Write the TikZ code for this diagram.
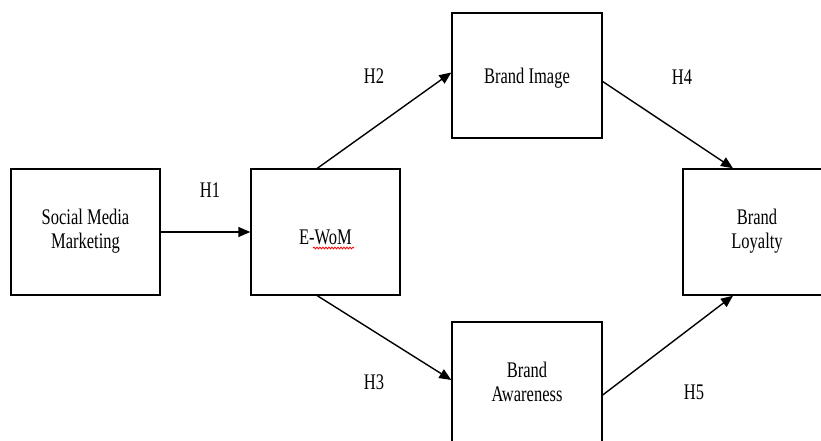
\documentclass[tikz,border=0pt]{standalone}
\usepackage{fontspec}
\setmainfont{Liberation Serif}
\usepackage{graphicx}
\usetikzlibrary{arrows.meta,calc,decorations.pathmorphing}
\newcommand{\vst}[1]{\scalebox{1}[1.35]{\begin{tabular}{@{}c@{}}#1\end{tabular}}}
\newcommand{\vsh}[1]{\scalebox{1}[1.35]{#1}}
\begin{document}
\begin{tikzpicture}[x=1pt,y=-1pt,
  box/.style={draw, line width=1.4pt, minimum width=149pt, minimum height=126pt, inner sep=0pt, font=\fontsize{16.5}{17.8}\selectfont},
  hyp/.style={inner sep=0pt, font=\fontsize{16.5}{17.8}\selectfont},
  link/.style={line width=1.4pt, -{Triangle[length=12pt,width=10pt]}}]
\useasboundingbox (0,0) rectangle (821,441);
\clip (0,0) rectangle (821,441);
\fill[white] (0,0) rectangle (821,441);
\node[box] (smm) at (85.5,232) {\vst{Social Media\\Marketing}};
\node[box, label={[hyp,yshift=-5pt]center:\vsh{E-WoM}}] (ewom) at (325.5,232) {};
\node[box, minimum width=150pt, minimum height=125pt, label={[hyp,yshift=-3pt]center:\vsh{Brand Image}}] (bi) at (527,75.5) {};
\node[box, minimum width=150pt] (ba) at (527,385) {\vst{Brand\\Awareness}};
\node[box, minimum width=148pt] (bl) at (757,232) {\vst{Brand\\Loyalty}};
\draw[link] (smm.east) -- (ewom.west);
\draw[link] ($(ewom.north west)+(67,0)$) -- ($(bi.west)+(0,-3)$);
\draw[link] ($(ewom.south west)+(67,0)$) -- ($(ba.west)+(0,-5)$);
\draw[link] ($(bi.east)+(0,6)$) -- ($(bl.north)+(-24,0)$);
\draw[link] ($(ba.east)+(0,10)$) -- ($(bl.south)+(-24,0)$);
\node[hyp] (h1) at (210,190) {\vsh{H1}};
\node[hyp] (h2) at (374,76) {\vsh{H2}};
\node[hyp] (h3) at (374,382) {\vsh{H3}};
\node[hyp] (h4) at (682,77) {\vsh{H4}};
\node[hyp] (h5) at (694,392) {\vsh{H5}};
\coordinate (w1) at ($(ewom.center)+(-12.5,16)$);
\coordinate (w2) at ($(ewom.center)+(28.5,16)$);
\draw[red, line width=0.8pt, decorate, decoration={snake, amplitude=0.9pt, segment length=3pt}] (w1) -- (w2);
\end{tikzpicture}
\end{document}
